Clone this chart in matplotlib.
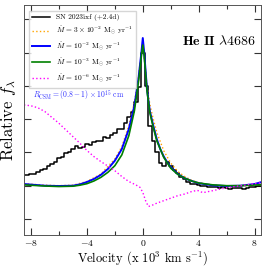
import matplotlib
matplotlib.use('Agg')
import matplotlib.pyplot as plt
from matplotlib.ticker import MultipleLocator, NullFormatter

plt.rcParams['font.family'] = 'serif'
plt.rcParams['font.serif'] = ['cmr10', 'DejaVu Serif']
plt.rcParams['mathtext.fontset'] = 'cm'
plt.rcParams['axes.formatter.use_mathtext'] = True

# SN 2023ixf observed spectrum (+2.4d)
obs_v = [-8.5, -8.25, -8.0, -7.75, -7.5, -7.25, -7.0, -6.75, -6.5, -6.25, -6.0, -5.75,
         -5.5, -5.25, -5.0, -4.75, -4.5, -4.25, -4.0, -3.75, -3.5, -3.25, -3.0, -2.75,
         -2.5, -2.25, -2.0, -1.75, -1.5, -1.25, -1.0, -0.75, -0.5, -0.25, 0.0, 0.25,
         0.5, 0.75, 1.0, 1.25, 1.5, 1.75, 2.0, 2.25, 2.5, 2.75, 3.0, 3.25, 3.5, 3.75,
         4.0, 4.25, 4.5, 4.75, 5.0, 5.25, 5.5, 5.75, 6.0, 6.25, 6.5, 6.75, 7.0, 7.25,
         7.5, 7.75, 8.0, 8.25, 8.5]
obs_f = [0.262, 0.265, 0.268, 0.272, 0.280, 0.292, 0.300, 0.318, 0.330, 0.345, 0.365, 0.372,
         0.395, 0.405, 0.418, 0.440, 0.428, 0.432, 0.448, 0.445, 0.462, 0.470, 0.470, 0.490,
         0.485, 0.505, 0.515, 0.540, 0.540, 0.575, 0.615, 0.640, 0.700, 0.790, 0.995, 0.800,
         0.560, 0.470, 0.400, 0.335, 0.320, 0.345, 0.320, 0.295, 0.275, 0.255, 0.240, 0.222,
         0.212, 0.212, 0.205, 0.200, 0.198, 0.195, 0.193, 0.192, 0.185, 0.190, 0.188, 0.182,
         0.186, 0.188, 0.186, 0.180, 0.184, 0.190, 0.194, 0.197, 0.200]

# model Mdot = 3e-2
m1_v = [-8.5, -7, -6, -5, -4, -3, -2, -1.5, -1, -0.6, -0.3, 0, 0.3, 0.5, 0.75, 1.0,
        1.5, 2.0, 2.5, 3.0, 3.5, 4, 5, 6, 7, 8, 8.5]
m1_f = [0.212, 0.203, 0.200, 0.203, 0.225, 0.270, 0.360, 0.435, 0.560, 0.700, 0.860, 1.06,
        0.80, 0.690, 0.600, 0.520, 0.410, 0.335, 0.285, 0.255, 0.232, 0.218, 0.204, 0.198,
        0.198, 0.204, 0.208]

# model Mdot = 1e-2
m2_v = [-8.5, -7, -6, -5, -4.5, -4, -3.5, -3, -2.5, -2, -1.5, -1.0, -0.6, -0.3, -0.1, 0,
        0.1, 0.3, 0.5, 0.75, 1.0, 1.25, 1.5, 1.75, 2.0, 2.5, 3.0, 3.5, 4.0, 5.0, 6.0, 7.0,
        8.0, 8.5]
m2_f = [0.210, 0.200, 0.198, 0.200, 0.208, 0.222, 0.240, 0.265, 0.300, 0.350, 0.420, 0.540,
        0.680, 0.850, 1.00, 1.087, 1.00, 0.780, 0.650, 0.560, 0.480, 0.420, 0.375, 0.340,
        0.310, 0.270, 0.245, 0.228, 0.215, 0.202, 0.198, 0.200, 0.210, 0.222]

# model Mdot = 1e-3
m3_v = [-8.5, -7, -6, -5, -4.5, -4, -3.5, -3, -2.5, -2, -1.5, -1, -0.6, -0.3, -0.1, 0,
        0.1, 0.3, 0.5, 0.75, 1.0, 1.5, 2.0, 2.5, 3, 3.5, 4, 5, 6, 7, 8, 8.5]
m3_f = [0.205, 0.198, 0.195, 0.197, 0.203, 0.212, 0.228, 0.250, 0.280, 0.320, 0.385, 0.500,
        0.650, 0.830, 0.98, 1.045, 0.98, 0.77, 0.64, 0.55, 0.47, 0.37, 0.305, 0.268, 0.245,
        0.228, 0.216, 0.205, 0.200, 0.200, 0.204, 0.206]

# model Mdot = 1e-6
m4_v = [-8.5, -8.0, -7.5, -7, -6.5, -6, -5.5, -5, -4.5, -4, -3.5, -3, -2.5, -2, -1.5,
        -1.0, -0.5, -0.2, 0.0, 0.2, 0.4, 0.6, 1.0, 1.5, 2.0, 2.5, 3.0, 3.5, 3.9, 4.3,
        5.0, 6.0, 7.0, 8.0, 8.5]
m4_f = [0.685, 0.680, 0.668, 0.645, 0.610, 0.575, 0.535, 0.495, 0.455, 0.412, 0.375, 0.345,
        0.318, 0.290, 0.255, 0.225, 0.205, 0.190, 0.160, 0.110, 0.075, 0.080, 0.095, 0.110,
        0.125, 0.140, 0.150, 0.165, 0.172, 0.158, 0.170, 0.188, 0.200, 0.212, 0.218]

fig = plt.figure(figsize=(2.66, 2.67), dpi=100)
ax = fig.add_axes([0.09, 0.12, 0.891, 0.861])

ax.plot(obs_v, obs_f, color='black', lw=1.1, drawstyle='steps-mid',
        label='SN 2023ixf (+2.4d)')
ax.plot(m1_v, m1_f, color='orange', lw=1.0, ls=':',
        label=r'$\dot{M}\, =\, 3\times10^{-2}\ \mathrm{M_{\odot}\ yr^{-1}}$')
ax.plot(m2_v, m2_f, color='blue', lw=1.4,
        label=r'$\dot{M}\, =\, 10^{-2}\ \mathrm{M_{\odot}\ yr^{-1}}$')
ax.plot(m3_v, m3_f, color='green', lw=1.2,
        label=r'$\dot{M}\, =\, 10^{-3}\ \mathrm{M_{\odot}\ yr^{-1}}$')
ax.plot(m4_v, m4_f, color='magenta', lw=1.0, ls=':',
        label=r'$\dot{M}\, =\, 10^{-6}\ \mathrm{M_{\odot}\ yr^{-1}}$')

ax.set_xlim(-8.5, 8.45)
ax.set_ylim(-0.096, 1.285)
ax.xaxis.set_major_locator(MultipleLocator(4))
ax.xaxis.set_minor_locator(MultipleLocator(2))
ax.yaxis.set_major_locator(MultipleLocator(0.2))
ax.yaxis.set_major_formatter(NullFormatter())
ax.tick_params(which='both', direction='in', top=True, right=True, labelsize=7,
               pad=2, color='#333333')
ax.tick_params(which='major', length=5, width=0.8)
ax.tick_params(which='minor', length=3, width=0.8)
for s in ax.spines.values():
    s.set_linewidth(0.7)
    s.set_color('#555555')

ax.set_xlabel(r'Velocity (x $10^3$ km s$^{-1}$)', fontsize=9, labelpad=1)
ax.set_ylabel(r'Relative $f_\lambda$', fontsize=12, labelpad=2)

ax.text(0.98, 0.845, r'$\mathbf{He\ II}\ \lambda4686$', transform=ax.transAxes,
        ha='right', va='center', fontsize=10)
ax.text(0.04, 0.605, r'$R_{\rm CSM} = (0.8-1)\times10^{15}$ cm', transform=ax.transAxes,
        ha='left', va='center', fontsize=5.5, color='#3333ff')

ax.legend(loc='upper left', fontsize=5.4, frameon=True, fancybox=False,
          edgecolor='#cccccc', handlelength=2.4, borderpad=0.4, labelspacing=0.45,
          handletextpad=0.8, bbox_to_anchor=(0.005, 0.99))

fig.savefig('out.png', dpi=100)
